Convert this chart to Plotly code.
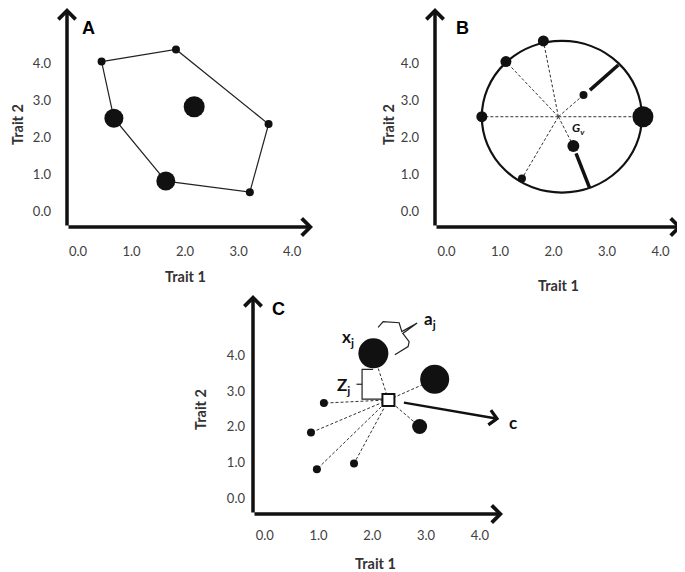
import plotly.graph_objects as go

W, H = 685, 572
OFF = 8  # default page margin of the browser body

# ---------------- data ----------------
tick_vals = [0, 1, 2, 3, 4]
tick_text = ["0.0", "1.0", "2.0", "3.0", "4.0"]

# Panel A: trait values, marker sizes, convex hull order
a_x = [0.44, 1.83, 3.56, 3.21, 1.64, 0.67, 2.17]
a_y = [4.04, 4.37, 2.35, 0.51, 0.81, 2.51, 2.82]
a_size = [8, 8, 8, 8, 19, 19, 21]
a_hull = [0, 1, 2, 3, 4, 5, 0]

# Panel B: points on circle, centroid G_v, ellipse bounds
b_x = [1.81, 1.11, 0.66, 1.41, 3.67, 2.56, 2.37]
b_y = [4.60, 4.04, 2.55, 0.88, 2.55, 3.14, 1.76]
b_size = [11, 11, 11, 8, 21, 8, 12]
b_center = (2.09, 2.55)
b_circle = (0.66, 0.50, 3.65, 4.60)  # x0, y0, x1, y1
b_thick_x = [2.68, 3.21, None, 2.42, 2.67]
b_thick_y = [3.27, 3.95, None, 1.56, 0.64]

# Panel C: points, centroid, direction c, brackets
c_x = [2.02, 3.16, 2.88, 1.10, 0.86, 0.97, 1.66]
c_y = [4.07, 3.34, 2.01, 2.67, 1.84, 0.81, 0.97]
c_size = [30, 29, 15, 8, 8, 8, 8]
c_center = (2.30, 2.76)
c_arrow = (2.56, 2.69, 4.36, 2.22)  # tail x, tail y, head x, head y
zj_x = [2.015, 1.81, 1.81, 2.20, None, 1.706, 1.81]
zj_y = [3.62, 3.62, 2.78, 2.78, None, 3.20, 3.20]
aj_x = [2.108, 2.201, 2.499, 2.549, 2.834, 2.567, 2.685, 2.666, 2.419]
aj_y = [4.80, 4.96, 4.93, 4.68, 4.92, 4.63, 4.40, 4.26, 4.03]


def px_x(p):
    return min(max((p - OFF) / W, 0.0), 1.0)


def px_y(p):
    return min(max(1 - (p - OFF) / H, 0.0), 1.0)


# ---------------- layout helpers ----------------
panels = {
    # name: (xaxis id, yaxis id, x range, y range, x domain px, y domain px)
    "A": ("x", "y", [-0.206, 4.39], [-0.432, 5.49], (67, 313), (8, 227)),
    "B": ("x2", "y2", [-0.215, 4.40], [-0.432, 5.49], (435, 682), (8, 227)),
    "C": ("x3", "y3", [-0.218, 4.43], [-0.449, 5.71], (253, 503), (295, 514)),
}
label_standoff = {"A": (15, 15), "B": (15, 15), "C": (12, 7)}

TICK_FONT = dict(family="Lato, Open Sans, sans-serif", size=13, color="#404040")
TITLE_FONT = dict(family="Lato, Open Sans, sans-serif", size=14.5, color="#333333")
INK = "#111111"

fig = go.Figure()


def segs_from_center(cx, cy, xs, ys):
    sx, sy = [], []
    for x, y in zip(xs, ys):
        sx += [cx, x, None]
        sy += [cy, y, None]
    return sx, sy


# Panel A
fig.add_trace(go.Scatter(x=[a_x[i] for i in a_hull], y=[a_y[i] for i in a_hull],
                         mode="lines", line=dict(color="#222222", width=1.2),
                         xaxis="x", yaxis="y", hoverinfo="skip"))
fig.add_trace(go.Scatter(x=a_x, y=a_y, mode="markers",
                         marker=dict(size=a_size, color=INK, opacity=1, line=dict(width=0)),
                         xaxis="x", yaxis="y"))

# Panel B
sx, sy = segs_from_center(b_center[0], b_center[1], b_x, b_y)
fig.add_trace(go.Scatter(x=sx, y=sy, mode="lines",
                         line=dict(color="#333333", width=1, dash="3px,2px"),
                         xaxis="x2", yaxis="y2", hoverinfo="skip"))
fig.add_trace(go.Scatter(x=b_thick_x, y=b_thick_y, mode="lines",
                         line=dict(color=INK, width=3.5),
                         xaxis="x2", yaxis="y2", hoverinfo="skip"))
fig.add_trace(go.Scatter(x=b_x, y=b_y, mode="markers",
                         marker=dict(size=b_size, color=INK, opacity=1, line=dict(width=0)),
                         xaxis="x2", yaxis="y2"))

# Panel C
sx, sy = segs_from_center(c_center[0], c_center[1], c_x, c_y)
fig.add_trace(go.Scatter(x=sx, y=sy, mode="lines",
                         line=dict(color="#333333", width=1, dash="3px,2px"),
                         xaxis="x3", yaxis="y3", hoverinfo="skip"))
fig.add_trace(go.Scatter(x=zj_x, y=zj_y, mode="lines",
                         line=dict(color="#222222", width=1.2),
                         xaxis="x3", yaxis="y3", hoverinfo="skip"))
fig.add_trace(go.Scatter(x=aj_x, y=aj_y, mode="lines",
                         line=dict(color="#222222", width=1.2),
                         xaxis="x3", yaxis="y3", hoverinfo="skip"))
fig.add_trace(go.Scatter(x=c_x, y=c_y, mode="markers",
                         marker=dict(size=c_size, color=INK, opacity=1, line=dict(width=0)),
                         xaxis="x3", yaxis="y3"))
fig.add_trace(go.Scatter(x=[c_center[0]], y=[c_center[1]], mode="markers",
                         marker=dict(symbol="square", size=12, color="white", opacity=1,
                                     line=dict(color=INK, width=2)),
                         xaxis="x3", yaxis="y3"))

for tr in fig.data:
    tr.update(showlegend=False, cliponaxis=False)

layout = dict(width=W, height=H, margin=dict(l=0, r=0, t=0, b=0),
              paper_bgcolor="white", plot_bgcolor="rgba(0,0,0,0)", showlegend=False)
annotations = []
shapes = []

for name, (xa, ya, xr, yr, (px0, px1), (py0, py1)) in panels.items():
    xkey = "xaxis" + xa[1:]
    ykey = "yaxis" + ya[1:]
    sx_off, sy_off = label_standoff[name]
    layout[xkey] = dict(domain=[px_x(px0), px_x(px1)], range=xr, anchor=ya,
                        tickvals=tick_vals, ticktext=tick_text, tickfont=TICK_FONT,
                        showgrid=False, zeroline=False, showline=False, ticks="",
                        ticklabelstandoff=sx_off, fixedrange=True)
    layout[ykey] = dict(domain=[px_y(py1), px_y(py0)], range=yr, anchor=xa,
                        tickvals=tick_vals, ticktext=tick_text, tickfont=TICK_FONT,
                        showgrid=False, zeroline=False, showline=False, ticks="",
                        ticklabelstandoff=sy_off, fixedrange=True)
    # axis arrows
    for (hx, hy) in [(xr[0], yr[1]), (xr[1], yr[0])]:
        annotations.append(dict(x=hx, y=hy, ax=xr[0], ay=yr[0], xref=xa, yref=ya,
                                axref=xa, ayref=ya, text="", showarrow=True,
                                arrowhead=4, arrowwidth=3.5, arrowsize=0.95,
                                arrowcolor=INK, standoff=0))

CENTER = dict(xanchor="center", yanchor="middle", showarrow=False,
              xref="paper", yref="paper")
# panel letters
for txt, px, py in [("A", 88, 28), ("B", 462, 28), ("C", 278, 309)]:
    annotations.append(dict(x=px_x(px), y=px_y(py), text="<b>%s</b>" % txt,
                            font=dict(family="Liberation Sans, Arial, sans-serif",
                                      size=18, color="black"), **CENTER))
# axis titles
for px, py in [(185, 277), (558, 285), (375, 563)]:
    annotations.append(dict(x=px_x(px), y=px_y(py), text="<b>Trait 1</b>",
                            font=TITLE_FONT, **CENTER))
for px, py in [(17, 125), (388, 125), (200, 410)]:
    annotations.append(dict(x=px_x(px), y=px_y(py), text="<b>Trait 2</b>",
                            textangle=-90, font=TITLE_FONT, **CENTER))

# circle in panel B
shapes.append(dict(type="circle", xref="x2", yref="y2", x0=b_circle[0], y0=b_circle[1],
                   x1=b_circle[2], y1=b_circle[3], line=dict(color=INK, width=2.2)))

# G_v label
annotations.append(dict(x=2.46, y=2.24, xref="x2", yref="y2", showarrow=False,
                        xanchor="center", yanchor="middle",
                        text="<b><i>G<sub>v</sub></i></b>",
                        font=dict(family="Lato, sans-serif", size=12, color=INK)))

# direction c arrow
annotations.append(dict(x=c_arrow[2], y=c_arrow[3], ax=c_arrow[0], ay=c_arrow[1],
                        xref="x3", yref="y3", axref="x3", ayref="y3", text="",
                        showarrow=True, arrowhead=4, arrowwidth=2.5, arrowsize=1.15,
                        arrowcolor=INK, standoff=0))
LBL = dict(family="Lato, sans-serif", size=17, color=INK)
for txt, x, y in [("x<sub>j</sub>", 1.55, 4.49),
                  ("Z<sub>j</sub>", 1.46, 3.16), ("a<sub>j</sub>", 3.07, 5.01)]:
    annotations.append(dict(x=x, y=y, xref="x3", yref="y3", showarrow=False,
                            xanchor="center", yanchor="middle",
                            text="<b>%s</b>" % txt, font=LBL))
annotations.append(dict(x=px_x(513), y=px_y(422), text="<b>c</b>", font=LBL, **CENTER))

layout["annotations"] = annotations
layout["shapes"] = shapes
fig.update_layout(**layout)

fig.write_html("out.html")
